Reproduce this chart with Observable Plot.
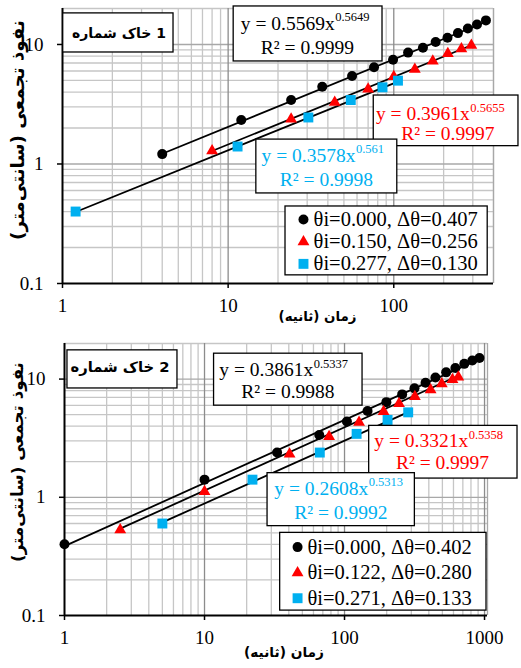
<!DOCTYPE html>
<html><head><meta charset="utf-8">
<script src="https://cdn.jsdelivr.net/npm/d3@7"></script>
<script src="https://cdn.jsdelivr.net/npm/@observablehq/plot@0.6"></script>
<style>
body{margin:0;background:#fff;}
#chart{width:521px;}
#chart svg{display:block;}
#chart svg g[aria-label$="tick label"] text{font-family:'Liberation Serif','Times New Roman',serif;}
</style></head><body><div id="chart"></div>
<script>
// ---------- data: soil 1 ----------
const s1BlackT = [4, 12, 24, 37, 56, 76, 99, 122, 150, 179, 211, 244, 280, 318, 360];
const s1BlackI = [1.21, 2.33, 3.43, 4.43, 5.45, 6.44, 7.45, 8.55, 9.4, 10.5, 11.4, 12.45, 13.6, 14.7, 15.9];
const s1RedT = [8, 24, 44, 70, 100, 134, 172, 212, 256, 294];
const s1RedI = [1.29, 2.38, 3.28, 4.24, 5.38, 6.2, 7.25, 8.4, 9.2, 9.85];
const s1BlueT = [1.2, 11.4, 30.5, 55, 85.5, 106];
const s1BlueI = [0.40, 1.40, 2.45, 3.43, 4.38, 4.98];
const s1A = [0.5569, 0.3961, 0.3578];
const s1B = ["0.5649", "0.5655", "0.561"];
const s1R2 = ["0.9999", "0.9997", "0.9998"];
const s1ThetaI = ["0.000", "0.150", "0.277"];
const s1DTheta = ["0.407", "0.256", "0.130"];

// ---------- data: soil 2 ----------
const s2BlackT = [1, 10, 33, 66, 104, 146, 199, 258, 316, 379, 446, 532, 619, 717, 818, 920];
const s2BlackI = [0.40, 1.41, 2.39, 3.37, 4.37, 5.37, 6.38, 7.42, 8.35, 9.32, 10.3, 11.4, 12.4, 13.45, 14.35, 15.1];
const s2RedT = [2.5, 10, 40.5, 77.6, 127, 190, 245, 318, 412, 495, 590, 650];
const s2RedI = [0.53, 1.12, 2.32, 3.27, 4.31, 5.3, 6.2, 7.1, 8.1, 9.1, 9.9, 10.4];
const s2BlueT = [5, 22, 66.6, 122, 203, 285];
const s2BlueI = [0.60, 1.41, 2.39, 3.44, 4.51, 5.23];
const s2A = [0.3861, 0.3321, 0.2608];
const s2B = ["0.5337", "0.5358", "0.5313"];
const s2R2 = ["0.9988", "0.9997", "0.9992"];
const s2ThetaI = ["0.000", "0.122", "0.271"];
const s2DTheta = ["0.402", "0.280", "0.133"];

// ---------- text ----------
const RLM = "\u200F";
const xLabel = "زمان (ثانیه)" + RLM;
const yLabel = "نفوذ تجمعی (سانتی‌متر)" + RLM;
const titles = ["خاک شماره\u200E 1", "خاک شماره\u200E 2"];
const yTicks = [0.1, 1, 10];
const xTicks1 = [1, 10, 100];
const xTicks2 = [1, 10, 100, 1000];

// ---------- styling ----------
const colors = ["#000000", "#ff0000", "#00b0f0"];
const symbols = ["circle", "triangle", "square"];
const radii = [5, 4.4, 5.6];
const serif = "Liberation Serif, Times New Roman, serif";
const persian = "DejaVu Sans, sans-serif";

function gridValues(maxV) {
  const minor = [], major = [];
  for (let p = 1; p <= 1000; p *= 10) {
    for (let k = 1; k <= 9; k++) {
      const v = k * p;
      if (v > maxV * 1.0001) continue;
      if (k === 1) { if (p > 1) major.push(v); } else minor.push(v);
    }
  }
  return {minor, major};
}
const gridYMinor = [0.2,0.3,0.4,0.5,0.6,0.7,0.8,0.9,2,3,4,5,6,7,8,9,20];
const gridYMajor = [1, 10];

function makePanel(cfg) {
  const series = cfg.series.map((s, i) => ({
    pts: s.t.map((t, j) => ({t, v: s.I[j]})),
    i
  }));
  const fits = series.map((s, i) => {
    const t0 = d3.min(s.pts, d => d.t), t1 = d3.max(s.pts, d => d.t);
    return [t0, t1].map(t => ({t, v: cfg.A[i] * Math.pow(t, +cfg.B[i]), i}));
  });
  const g = gridValues(cfg.xDomain[1]);
  const L = cfg.layout;
  const marks = [
    Plot.ruleX(g.minor, {stroke: "#c6c6c6", strokeWidth: 1.3}),
    Plot.ruleY(gridYMinor, {stroke: "#c6c6c6", strokeWidth: 1.3}),
    Plot.ruleY(gridYMajor, {stroke: "#a8a8a8", strokeWidth: 1.3}),
    Plot.ruleX(g.major, {stroke: "#8c8c8c", strokeWidth: 1.3}),
    Plot.ruleX([cfg.xDomain[1]], {stroke: "#a8a8a8", strokeWidth: 1.3}),
    Plot.axisX({ticks: cfg.xTicks, tickSize: 5, tickPadding: 10, tickFormat: d => String(d), label: null, fontSize: 19, fontFamily: serif, strokeWidth: 1.5}),
    Plot.axisY({ticks: yTicks, tickSize: 5, tickPadding: 14, tickFormat: d => String(d), label: null, fontSize: 19, fontFamily: serif, strokeWidth: 1.5}),
    Plot.ruleX([cfg.xDomain[0]], {stroke: "black", strokeWidth: 2}),
    Plot.ruleY([0.1], {stroke: "black", strokeWidth: 2}),
  ];
  fits.forEach(f => marks.push(Plot.line(f, {x: "t", y: "v", stroke: "black", strokeWidth: 1.8})));
  series.forEach((s, i) => marks.push(Plot.dot(s.pts, {x: "t", y: "v", symbol: symbols[i], r: radii[i], fill: colors[i], stroke: "none"})));
  // title box
  marks.push(Plot.rect([L.title.box], {x1: d => d[0], x2: d => d[1], y1: d => d[2], y2: d => d[3], fill: "white", stroke: "black", strokeWidth: 1.3}));
  marks.push(Plot.text([cfg.title], {x: () => L.title.at[0], y: () => L.title.at[1], text: d => d, fontFamily: persian, fontWeight: "bold", fontSize: 14, fill: "black"}));
  // equation boxes
  L.eq.forEach((e, i) => {
    marks.push(Plot.rect([e.box], {x1: d => d[0], x2: d => d[1], y1: d => d[2], y2: d => d[3], fill: "white", stroke: "black", strokeWidth: 1.3}));
    marks.push(Plot.text([`y = ${cfg.A[i]}x`], {x: () => e.split[0], y: () => e.split[1], text: d => d, textAnchor: "end", fontSize: 19.5, fontFamily: serif, fill: colors[i]}));
    marks.push(Plot.text([cfg.B[i]], {x: () => e.split[0], y: () => e.split[1], text: d => d, textAnchor: "start", dy: -6, dx: 0.5, fontSize: 12.5, fontFamily: serif, fill: colors[i]}));
    marks.push(Plot.text([`R² = ${cfg.R2[i]}`], {x: () => e.r2[0], y: () => e.r2[1], text: d => d, fontSize: 19.5, fontFamily: serif, fill: colors[i]}));
  });
  // legend
  const lg = L.legend;
  marks.push(Plot.rect([lg.box], {x1: d => d[0], x2: d => d[1], y1: d => d[2], y2: d => d[3], fill: "white", stroke: "black", strokeWidth: 1.3}));
  const rows = cfg.thetaI.map((th, i) => ({i, label: `θi=${th}, Δθ=${cfg.dTheta[i]}`, y: lg.rows[i]}));
  rows.forEach(r => marks.push(Plot.dot([r], {x: () => lg.markerX, y: "y", symbol: symbols[r.i], r: radii[r.i], fill: colors[r.i], stroke: "none"})));
  marks.push(Plot.text(rows, {x: () => lg.textX, y: "y", text: "label", textAnchor: "start", fontSize: 20.5, fontFamily: serif, fill: "black"}));
  // axis labels
  marks.push(Plot.text([xLabel], {frameAnchor: "bottom", text: d => d, dx: 40, dy: 33, fontFamily: persian, fontWeight: "bold", fontSize: 14.5, fill: "black"}));
  marks.push(Plot.text([yLabel], {frameAnchor: "left", text: d => d, rotate: -90, dx: -44, dy: -15, fontFamily: persian, fontWeight: "bold", fontSize: 11.5, fill: "black"}));

  return Plot.plot({
    width: 521, height: cfg.height,
    marginLeft: cfg.m[0], marginRight: cfg.m[1], marginTop: cfg.m[2], marginBottom: cfg.m[3],
    x: {type: "log", domain: cfg.xDomain},
    y: {type: "log", domain: [0.1, 20]},
    style: {fontFamily: serif, fontSize: "19px", background: "white", color: "black", overflow: "visible"},
    marks
  });
}

// Fit a Persian label to its measured place (bidi text anchoring differs between engines)
function fitText(svg, str, cx, cy, len, vertical) {
  const t = [...svg.querySelectorAll("text")].find(e => e.textContent === str);
  if (!t) return;
  const sr = svg.getBoundingClientRect();
  let r = t.getBoundingClientRect();
  const cur = vertical ? r.height : r.width;
  const fs = parseFloat(getComputedStyle(t).fontSize);
  if (cur > 0) t.style.fontSize = (fs * len / cur) + "px";
  r = t.getBoundingClientRect();
  const dx = cx - (r.left + r.width / 2 - sr.left);
  const dy = cy - (r.top + r.height / 2 - sr.top);
  t.setAttribute("transform", `translate(${dx},${dy}) ` + (t.getAttribute("transform") || ""));
}

const panel1 = makePanel({
  height: 330, m: [62, 28, 8, 47], xDomain: [1, 400], xTicks: xTicks1,
  series: [{t: s1BlackT, I: s1BlackI}, {t: s1RedT, I: s1RedI}, {t: s1BlueT, I: s1BlueI}],
  A: s1A, B: s1B, R2: s1R2, thetaI: s1ThetaI, dTheta: s1DTheta, title: titles[0],
  layout: {
    title: {box: [1.01, 4.68, 8.57, 18.2], at: [2.18, 12.6]},
    eq: [
      {box: [10.8, 85.5, 7.21, 20.8], split: [44.0, 15.0], r2: [30.1, 9.44]},
      {box: [75.7, 566, 1.41, 3.74], split: [288, 2.63], r2: [212, 1.79]},
      {box: [14.8, 105, 0.567, 1.60], split: [58.7, 1.18], r2: [39.2, 0.738]}
    ],
    legend: {box: [22.2, 369, 0.117, 0.441], markerX: 28.5, textX: 32.8, rows: [0.343, 0.223, 0.146]}
  }
});
const panel2 = makePanel({
  height: 338, m: [64, 34, 13, 53], xDomain: [1, 1050], xTicks: xTicks2,
  series: [{t: s2BlackT, I: s2BlackI}, {t: s2RedT, I: s2RedI}, {t: s2BlueT, I: s2BlueI}],
  A: s2A, B: s2B, R2: s2R2, thetaI: s2ThetaI, dTheta: s2DTheta, title: titles[1],
  layout: {
    title: {box: [1.05, 6.41, 8.33, 17.5], at: [2.61, 12.3]},
    eq: [
      {box: [11.7, 134.5, 5.96, 16.4], split: [59.7, 12.05], r2: [39.4, 7.82]},
      {box: [150, 1720, 1.44, 4.02], split: [764, 3.00], r2: [501, 1.95]},
      {box: [28.2, 318, 0.570, 1.60], split: [147.5, 1.19], r2: [94.1, 0.738]}
    ],
    legend: {box: [34.7, 1033, 0.110, 0.500], markerX: 46.2, textX: 54.4, rows: [0.379, 0.230, 0.140]}
  }
});
document.getElementById("chart").append(panel1, panel2);

fitText(panel1, yLabel, 18, 130, 220, true);
fitText(panel1, xLabel, 317.5, 316, 78, false);
fitText(panel1, titles[0], 119, 32.5, 94, false);
fitText(panel2, yLabel, 18, 132, 200, true);
fitText(panel2, xLabel, 284, 321.5, 80, false);
fitText(panel2, titles[1], 120, 37, 99, false);
</script></body></html>
